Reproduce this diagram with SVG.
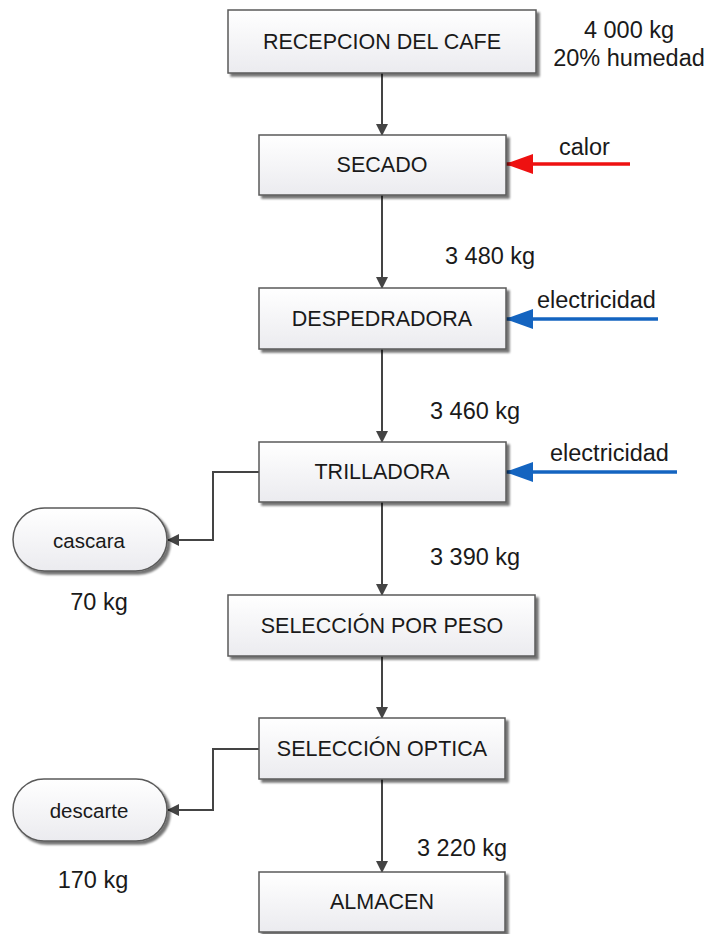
<svg xmlns="http://www.w3.org/2000/svg" width="709" height="934" viewBox="0 0 709 934">
  <defs>
    <linearGradient id="boxFill" x1="0" y1="0" x2="0" y2="1">
      <stop offset="0" stop-color="#ffffff"/>
      <stop offset="1" stop-color="#ebebef"/>
    </linearGradient>
    <filter id="shadow" x="-10%" y="-10%" width="130%" height="140%">
      <feGaussianBlur in="SourceAlpha" stdDeviation="1.2"/>
      <feOffset dx="3" dy="3" result="b"/>
      <feComponentTransfer><feFuncA type="linear" slope="0.55"/></feComponentTransfer>
      <feMerge><feMergeNode/><feMergeNode in="SourceGraphic"/></feMerge>
    </filter>
    <marker id="arrDark" markerWidth="12" markerHeight="12" refX="11" refY="6" orient="auto" markerUnits="userSpaceOnUse">
      <path d="M0,0 L12,6 L0,12 Z" fill="#444"/>
    </marker>
    <marker id="arrRed" markerWidth="28" markerHeight="20" refX="27" refY="10" orient="auto" markerUnits="userSpaceOnUse">
      <path d="M0,0 L28,10 L0,20 L0,0 Z" fill="#ee1111"/>
    </marker>
    <marker id="arrBlue" markerWidth="28" markerHeight="20" refX="27" refY="10" orient="auto" markerUnits="userSpaceOnUse">
      <path d="M0,0 L28,10 L0,20 L0,0 Z" fill="#1464c0"/>
    </marker>
  </defs>
  <style>
    .box { fill: url(#boxFill); stroke: #5a5a5a; stroke-width: 1.5; filter: url(#shadow); }
    .lbl { font-family: "Liberation Sans", Arial, sans-serif; font-size: 21.5px; fill: #1a1a1a; text-anchor: middle; }
    .pill { font-family: "Liberation Sans", Arial, sans-serif; font-size: 20.5px; fill: #1a1a1a; text-anchor: middle; }
    .num { font-family: "Liberation Sans", Arial, sans-serif; font-size: 23.5px; fill: #1a1a1a; }
    .numc { font-family: "Liberation Sans", Arial, sans-serif; font-size: 23.5px; fill: #1a1a1a; text-anchor: middle; }
    .conn { fill: none; stroke: #444; stroke-width: 2; }
    .red { fill: none; stroke: #ee1111; stroke-width: 3.5; }
    .blue { fill: none; stroke: #1464c0; stroke-width: 3.5; }
  </style>

  <g id="connectors">
    <path class="conn" d="M382,73 L382,135" marker-end="url(#arrDark)"/>
    <path class="conn" d="M382,195 L382,288" marker-end="url(#arrDark)"/>
    <path class="conn" d="M382,349 L382,442" marker-end="url(#arrDark)"/>
    <path class="conn" d="M382,502 L382,595" marker-end="url(#arrDark)"/>
    <path class="conn" d="M382,656 L382,718" marker-end="url(#arrDark)"/>
    <path class="conn" d="M382,779 L382,872" marker-end="url(#arrDark)"/>
    <path class="conn" d="M259,472 L213,472 L213,540 L168,540" marker-end="url(#arrDark)"/>
    <path class="conn" d="M259,749 L213,749 L213,810 L168,810" marker-end="url(#arrDark)"/>
    <path class="red" d="M630,164 L506,164" marker-end="url(#arrRed)"/>
    <path class="blue" d="M658,319 L506,319" marker-end="url(#arrBlue)"/>
    <path class="blue" d="M677,472 L506,472" marker-end="url(#arrBlue)"/>
  </g>

  <g id="recepcion">
    <rect class="box" x="228" y="10" width="308" height="63"/>
    <text class="lbl" x="382" y="49">RECEPCION DEL CAFE</text>
  </g>
  <g id="secado">
    <rect class="box" x="259" y="135" width="247" height="60"/>
    <text class="lbl" x="382" y="172">SECADO</text>
  </g>
  <g id="despedradora">
    <rect class="box" x="259" y="288" width="247" height="61"/>
    <text class="lbl" x="382" y="326">DESPEDRADORA</text>
  </g>
  <g id="trilladora">
    <rect class="box" x="259" y="442" width="247" height="60"/>
    <text class="lbl" x="382" y="479">TRILLADORA</text>
  </g>
  <g id="seleccion-peso">
    <rect class="box" x="228" y="595" width="307" height="61"/>
    <text class="lbl" x="382" y="633">SELECCIÓN POR PESO</text>
  </g>
  <g id="seleccion-optica">
    <rect class="box" x="259" y="718" width="246" height="61"/>
    <text class="lbl" x="382" y="756">SELECCIÓN OPTICA</text>
  </g>
  <g id="almacen">
    <rect class="box" x="259" y="872" width="246" height="60"/>
    <text class="lbl" x="382" y="909">ALMACEN</text>
  </g>
  <g id="cascara">
    <rect class="box" x="13" y="508" width="154" height="63" rx="31.5" ry="31.5"/>
    <text class="pill" x="89" y="548">cascara</text>
  </g>
  <g id="descarte">
    <rect class="box" x="13" y="779" width="154" height="62" rx="31" ry="31"/>
    <text class="pill" x="89" y="818">descarte</text>
  </g>

  <g id="labels">
    <text class="numc" x="629" y="38">4 000 kg</text>
    <text class="numc" x="629" y="66">20% humedad</text>
    <text class="num" x="559" y="155">calor</text>
    <text class="num" x="445" y="264">3 480 kg</text>
    <text class="num" x="537" y="308">electricidad</text>
    <text class="num" x="430" y="419">3 460 kg</text>
    <text class="num" x="550" y="461">electricidad</text>
    <text class="num" x="430" y="565">3 390 kg</text>
    <text class="numc" x="99" y="610">70 kg</text>
    <text class="num" x="417" y="856">3 220 kg</text>
    <text class="numc" x="93" y="888">170 kg</text>
  </g>
</svg>
